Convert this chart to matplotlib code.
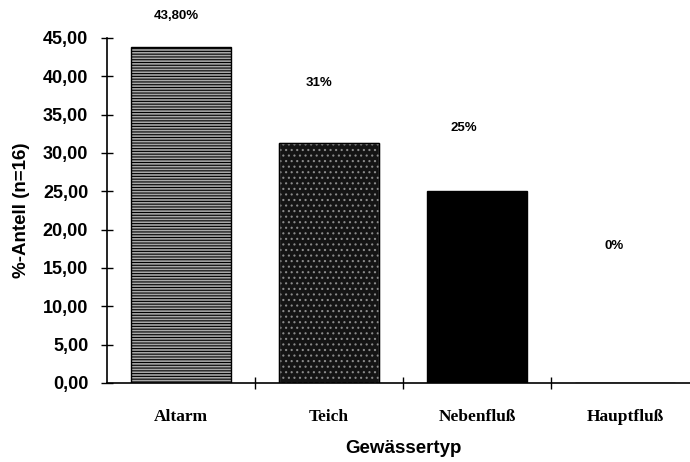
import matplotlib
matplotlib.use("Agg")
import matplotlib.pyplot as plt
from matplotlib.ticker import FuncFormatter

categories = ["Altarm", "Teich", "Nebenfluß", "Hauptfluß"]
values = [43.8, 31.25, 25.0, 0.0]
value_labels = ["43,80%", "31%", "25%", "0%"]
# label positions as they sit in the picture (x offset, y value)
label_x = [-0.03, -0.07, -0.09, -0.07]
label_y = [47.8, 39.1, 33.2, 17.9]

plt.rcParams['hatch.linewidth'] = 0.8

fig = plt.figure(figsize=(6.9, 4.62), dpi=100)
ax = fig.add_axes([0.155, 0.171, 0.858, 0.747])

x = range(len(categories))
bars = ax.bar(x, values, width=0.68, edgecolor="black", linewidth=1.0)
bars[0].set_facecolor("#a8a8a8")
bars[0].set_hatch("------")
bars[1].set_facecolor("#141414")
bars[1].set_hatch("...")
bars[1].set_edgecolor("#8a8a8a")
bars[2].set_facecolor("black")
# black outline for the speckled bar
ax.bar([1], [values[1]], width=0.68, fill=False, edgecolor="black", linewidth=1.0)

for i, lab in enumerate(value_labels):
    ax.text(i + label_x[i], label_y[i], lab, ha="center", va="center",
            fontsize=9.5, fontweight="bold", family="Liberation Sans")

ax.set_xlim(-0.5, 3.5)
ax.set_ylim(0, 45)
ax.set_yticks(range(0, 46, 5))
ax.yaxis.set_major_formatter(FuncFormatter(lambda v, p: f"{v:.2f}".replace(".", ",")))

ax.set_xticks([0.5, 1.5, 2.5])
ax.set_xticklabels([])
ax.set_xticks(list(x), minor=True)
ax.set_xticklabels(categories, minor=True, fontsize=12.5, fontweight="bold",
                   family="Liberation Serif")
ax.tick_params(axis="x", which="minor", length=0, pad=19)
ax.tick_params(axis="x", which="major", direction="inout", length=9, width=1)
ax.tick_params(axis="y", direction="inout", length=9, width=1, pad=9)
for t in ax.get_yticklabels():
    t.set_fontsize(13)
    t.set_fontweight("bold")
    t.set_family("Liberation Sans")

for s in ["top", "right"]:
    ax.spines[s].set_visible(False)
ax.spines["left"].set_linewidth(1.2)
ax.spines["bottom"].set_linewidth(1.2)

ax.set_ylabel("%-Antell (n=16)", fontsize=13.5, fontweight="bold",
              family="Liberation Sans", labelpad=9)
ax.set_xlabel("Gewässertyp", fontsize=13.5, fontweight="bold",
              family="Liberation Sans")
ax.xaxis.set_label_coords(0.5, -0.165)

fig.savefig("out.png", dpi=100)
